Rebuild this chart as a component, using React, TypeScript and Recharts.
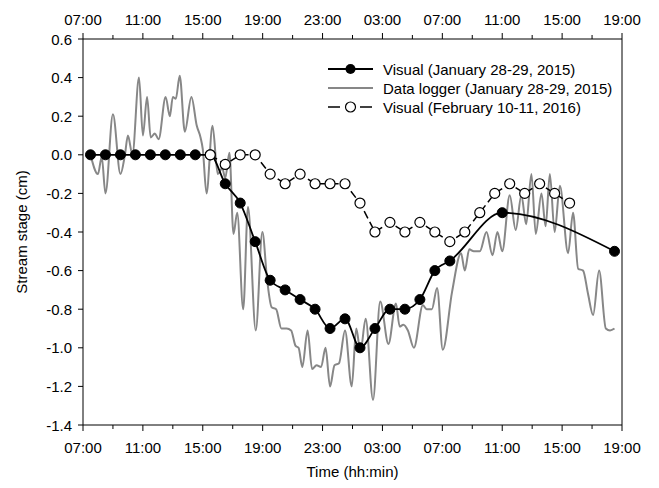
import React from 'react';
import { LineChart, Line, XAxis, YAxis, Legend, ReferenceLine } from 'recharts';

// Hours are counted from 07:00 on the first day (0 = 07:00, 36 = 19:00 next day).
const visualJanHours = [0.5, 1.5, 2.5, 3.5, 4.5, 5.5, 6.5, 7.5, 8.5, 9.5, 10.5, 11.5, 12.5, 13.5, 14.5, 15.5, 16.5, 17.5, 18.5, 19.5, 20.5, 21.5, 22.5, 23.5, 24.5, 28, 35.5];
const visualJanStage = [0, 0, 0, 0, 0, 0, 0, 0, 0, -0.15, -0.25, -0.45, -0.65, -0.7, -0.75, -0.8, -0.9, -0.85, -1.0, -0.9, -0.8, -0.8, -0.75, -0.6, -0.55, -0.3, -0.5];

const loggerHours = [
  0.5, 1.0, 1.25, 1.5, 2.0, 2.5, 2.8, 3.0, 3.3, 3.74, 4.0, 4.28, 4.52, 4.8, 5.05, 5.52, 5.8, 6.0, 6.2, 6.46,
  6.8, 7.24, 7.6, 7.85, 8.0, 8.25, 8.65, 9.0, 9.3, 9.5, 9.78, 10.05, 10.3, 10.7, 11.02, 11.54, 11.98, 12.3, 12.6, 12.9,
  13.25, 13.6, 13.9, 14.2, 14.4, 14.65, 15.0, 15.3, 15.6, 15.9, 16.2, 16.5, 16.8, 17.1, 17.5, 17.95, 18.25, 18.53, 18.88, 19.37,
  19.85, 20.4, 20.9, 21.15, 21.4, 21.7, 22.1, 22.7, 22.95, 23.3, 23.65, 24.03, 24.65, 25.25, 25.5, 25.8, 26.1, 26.5, 26.95, 27.35,
  27.68, 28.0, 28.5, 28.9, 29.28, 29.6, 29.95, 30.24, 30.62, 30.9, 31.18, 31.5, 31.85, 32.4, 32.73, 33.07, 33.4, 33.73, 34.07, 34.47,
  34.92, 35.2, 35.5,
];
const loggerStage = [
  0, -0.1, -0.01, -0.2, 0.21, -0.1, 0.0, 0.1, 0.0, 0.4, 0.1, 0.3, 0.09, 0.11, 0.08, 0.3, 0.2, 0.3, 0.29, 0.41,
  0.12, 0.3, 0.15, 0.09, 0.03, -0.2, 0.15, -0.1, -0.07, -0.12, 0.01, -0.41, -0.3, -0.8, -0.27, -0.91, -0.4, -0.65, -0.79, -0.8,
  -0.9, -0.9, -0.91, -0.99, -1.0, -1.1, -0.91, -1.11, -1.09, -1.1, -1.0, -1.2, -1.09, -1.08, -0.91, -1.2, -0.9, -1.02, -0.85, -1.27,
  -0.76, -0.98, -0.77, -0.89, -0.88, -0.91, -1.0, -0.78, -0.8, -0.8, -0.69, -1.01, -0.71, -0.51, -0.6, -0.49, -0.5, -0.5, -0.4, -0.52,
  -0.4, -0.5, -0.21, -0.39, -0.21, -0.36, -0.1, -0.41, -0.2, -0.37, -0.1, -0.4, -0.16, -0.51, -0.3, -0.59, -0.6, -0.72, -0.83, -0.6,
  -0.9, -0.91, -0.9,
];

const visualFebHours = [8.5, 9.5, 10.5, 11.5, 12.5, 13.5, 14.5, 15.5, 16.5, 17.5, 18.5, 19.5, 20.5, 21.5, 22.5, 23.5, 24.5, 25.5, 26.5, 27.5, 28.5, 29.5, 30.5, 31.5, 32.5];
const visualFebStage = [0, -0.05, 0, 0, -0.1, -0.15, -0.1, -0.15, -0.15, -0.15, -0.25, -0.4, -0.35, -0.4, -0.35, -0.4, -0.45, -0.4, -0.3, -0.2, -0.15, -0.2, -0.15, -0.2, -0.25];

const hourTicks = [0, 2, 4, 6, 8, 10, 12, 14, 16, 18, 20, 22, 24, 26, 28, 30, 32, 34, 36];
const stageTicks = [-1.4, -1.2, -1.0, -0.8, -0.6, -0.4, -0.2, 0, 0.2, 0.4, 0.6];

const seriesNames = [
  'Visual (January 28-29, 2015)',
  'Data logger (January 28-29, 2015)',
  'Visual (February 10-11, 2016)',
];

const toRows = (hours: number[], stage: number[]) => hours.map((h, i) => ({ h, stage: stage[i] }));
const visualJan = toRows(visualJanHours, visualJanStage);
const logger = toRows(loggerHours, loggerStage);
const visualFeb = toRows(visualFebHours, visualFebStage);

const FONT = '"Liberation Sans", Arial, Helvetica, sans-serif';
const FS = 15;
const GRAY = '#878787';

const clock = (h: number) => {
  const hh = (7 + h) % 24;
  return `${hh < 10 ? '0' : ''}${hh}:00`;
};

const BottomTick = (props: any) => {
  const { x, y, payload } = props;
  const major = payload.value % 4 === 0;
  return (
    <g>
      <line x1={x} y1={y} x2={x} y2={y + (major ? 6 : 4)} stroke="#000" strokeWidth={1} />
      {major && (
        <text x={x} y={y + 28} textAnchor="middle" fontFamily={FONT} fontSize={FS} fill="#000">
          {clock(payload.value)}
        </text>
      )}
    </g>
  );
};

const TopTick = (props: any) => {
  const { x, y, payload } = props;
  const major = payload.value % 4 === 0;
  return (
    <g>
      <line x1={x} y1={y} x2={x} y2={y - (major ? 6 : 4)} stroke="#000" strokeWidth={1} />
      {major && (
        <text x={x} y={y - 14} textAnchor="middle" fontFamily={FONT} fontSize={FS} fill="#000">
          {clock(payload.value)}
        </text>
      )}
    </g>
  );
};

const LeftTick = (props: any) => {
  const { x, y, payload } = props;
  return (
    <g>
      <line x1={x - 5} y1={y} x2={x} y2={y} stroke="#000" strokeWidth={1} />
      <text x={x - 11} y={y + 5.5} textAnchor="end" fontFamily={FONT} fontSize={FS} fill="#000">
        {Number(payload.value).toFixed(1)}
      </text>
    </g>
  );
};

const LegendBox = () => (
  <svg width={320} height={64} style={{ display: 'block' }}>
    <g fontFamily={FONT} fontSize={FS} fill="#000">
      <line x1={8} y1={11} x2={53} y2={11} stroke="#000" strokeWidth={2} />
      <circle cx={30.5} cy={11} r={5} fill="#000" />
      <text x={63} y={16.5}>{seriesNames[0]}</text>

      <line x1={8} y1={30} x2={53} y2={30} stroke={GRAY} strokeWidth={2} />
      <text x={63} y={35.5}>{seriesNames[1]}</text>

      <line x1={8} y1={49} x2={20} y2={49} stroke="#000" strokeWidth={1.5} />
      <line x1={40} y1={49} x2={52} y2={49} stroke="#000" strokeWidth={1.5} />
      <circle cx={30.5} cy={49} r={5} fill="#fff" stroke="#000" strokeWidth={1.2} />
      <text x={63} y={54.5}>{seriesNames[2]}</text>
    </g>
  </svg>
);

export default function App() {
  return (
    <div style={{ position: 'absolute', left: 0, top: 0, width: 659, height: 488, background: '#fff' }}>
      <LineChart width={659} height={488} margin={{ top: 0, right: 37, bottom: 0, left: 0 }}>
        <XAxis
          xAxisId="b"
          type="number"
          dataKey="h"
          domain={[0, 36]}
          ticks={hourTicks}
          interval={0}
          orientation="bottom"
          height={63}
          tickSize={0}
          tickMargin={0}
          tickLine={false}
          tick={<BottomTick />}
          axisLine={{ stroke: '#000', strokeWidth: 1 }}
          allowDataOverflow
          label={{
            content: () => (
              <text x={352.5} y={477} textAnchor="middle" fontFamily={FONT} fontSize={FS} fill="#000">
                Time (hh:min)
              </text>
            ),
          }}
        />
        <XAxis
          xAxisId="t"
          type="number"
          dataKey="h"
          domain={[0, 36]}
          ticks={hourTicks}
          interval={0}
          orientation="top"
          height={39}
          tickSize={0}
          tickMargin={0}
          tickLine={false}
          tick={<TopTick />}
          axisLine={{ stroke: '#000', strokeWidth: 1 }}
          allowDataOverflow
        />
        <YAxis
          yAxisId="l"
          type="number"
          domain={[-1.4, 0.6]}
          ticks={stageTicks}
          interval={0}
          width={83}
          tickSize={0}
          tickMargin={0}
          tickLine={false}
          tick={<LeftTick />}
          axisLine={{ stroke: '#000', strokeWidth: 1 }}
          allowDataOverflow
          label={{
            content: () => (
              <text
                x={27}
                y={232}
                transform="rotate(-90 27 232)"
                textAnchor="middle"
                fontFamily={FONT}
                fontSize={FS}
                fill="#000"
              >
                Stream stage (cm)
              </text>
            ),
          }}
        />
        <ReferenceLine xAxisId="b" yAxisId="l" x={36} stroke="#000" strokeWidth={1} />
        <Line
          xAxisId="b"
          yAxisId="l"
          data={logger}
          dataKey="stage"
          type="monotone"
          stroke={GRAY}
          strokeWidth={2}
          dot={false}
          activeDot={false}
          isAnimationActive={false}
        />
        <Line
          xAxisId="b"
          yAxisId="l"
          data={visualJan}
          dataKey="stage"
          type="monotone"
          stroke="#000"
          strokeWidth={1.8}
          dot={{ r: 5, fill: '#000', stroke: '#000', strokeWidth: 1 }}
          activeDot={false}
          isAnimationActive={false}
        />
        <Line
          xAxisId="b"
          yAxisId="l"
          data={visualFeb}
          dataKey="stage"
          type="linear"
          stroke="#000"
          strokeWidth={1.5}
          strokeDasharray="8 4"
          dot={{ r: 5, fill: '#fff', stroke: '#000', strokeWidth: 1.2, strokeDasharray: '0' }}
          activeDot={false}
          isAnimationActive={false}
        />
        <Legend
          layout="vertical"
          align="center"
          verticalAlign="middle"
          wrapperStyle={{ position: 'absolute', left: 320, top: 58, width: 320, height: 64 }}
          content={() => <LegendBox />}
        />
      </LineChart>
    </div>
  );
}
